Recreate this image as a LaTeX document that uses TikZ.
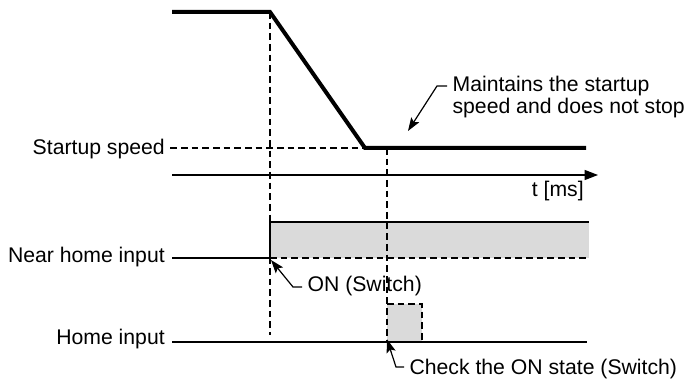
\documentclass[tikz,border=0pt]{standalone}
\usepackage{fontspec}
\setmainfont{Liberation Sans}
\usetikzlibrary{arrows.meta}
\definecolor{sigfill}{RGB}{218,218,218}
\tikzset{
  speedline/.style={line width=3pt,line join=miter},
  sigline/.style={line width=1.7pt},
  guide/.style={line width=0.9pt,dash pattern=on 5pt off 3pt},
  axisline/.style={line width=0.9pt,-{Triangle[length=10pt,width=7.5pt]}},
  note/.style={line width=0.9pt,->},
  label/.style={anchor=base east,inner sep=0pt},
  notetext/.style={inner sep=4pt}
}
\begin{document}
\begin{tikzpicture}[>={Stealth[length=10pt,width=7pt,inset=2pt]},x=0.75pt,y=-0.75pt,
  font=\fontsize{15.9}{14.5}\selectfont]
  \useasboundingbox (0,0) rectangle (687,384);

  \coordinate (v0) at (172,12);
  \coordinate (v1) at (270,12);
  \coordinate (v2) at (365,148);
  \coordinate (v3) at (586,148);
  \coordinate (d1) at (270,335);
  \node[label] (spd) at (165,155) {Startup speed};

  \coordinate (t0) at (172,175);
  \coordinate (t1) at (598,175);
  \node[label] (tms) at (584,197) {t [ms]};

  \coordinate (n0) at (172,258);
  \coordinate (n1) at (270,258);
  \coordinate (n2) at (270,222);
  \coordinate (n3) at (589,222);
  \coordinate (n4) at (589,258);
  \node[label] (near) at (165,263) {Near home input};

  \coordinate (h0) at (172,342);
  \coordinate (h1) at (587,342);
  \coordinate (p0) at (387,342);
  \coordinate (p1) at (387,304);
  \coordinate (p2) at (422,304);
  \coordinate (p3) at (422,342);
  \node[label] (home) at (165,345) {Home input};

  \fill[sigfill] (n1) rectangle (n3);
  \fill[sigfill] (p0) rectangle (p2);

  % guides
  \draw[guide] ([xshift=4pt]spd.east |- v2) -- (v2);
  \draw[guide] (v1) -- (d1);
  \draw[guide] (p0 |- v2) -- (p0);
  \draw[guide] (n1) -- (n4);
  \draw[guide] (p1) -- (p2) -- (p3);

  % signals
  \draw[speedline] (v0) -- (v1) -- (v2) -- (v3);
  \draw[axisline] (t0) -- (t1);
  \draw[sigline] (n0) -- (n1) -- (n2) -- (n3);
  \draw[sigline] (h0) -- (h1);

  % notes
  \node[notetext,anchor=west,align=left] (keep) at (447,97) {Maintains the startup\\speed and does not stop};
  \coordinate (k1) at (437,86);
  \coordinate (k2) at (408,131);
  \draw[note] (keep.west |- k1) -- (k1) -- (k2);

  \node[notetext,anchor=base west] (on) at (302,292) {ON (Switch)};
  \coordinate (o1) at (293,287);
  \draw[note] (on.west |- o1) -- (o1) -- ([shift={(1,2)}]n1);

  \node[notetext,anchor=base west] (chk) at (404,375) {Check the ON state (Switch)};
  \coordinate (c1) at (396,367);
  \draw[note] (chk.west |- c1) -- (c1) -- ([yshift=2pt]p0);
\end{tikzpicture}
\end{document}
